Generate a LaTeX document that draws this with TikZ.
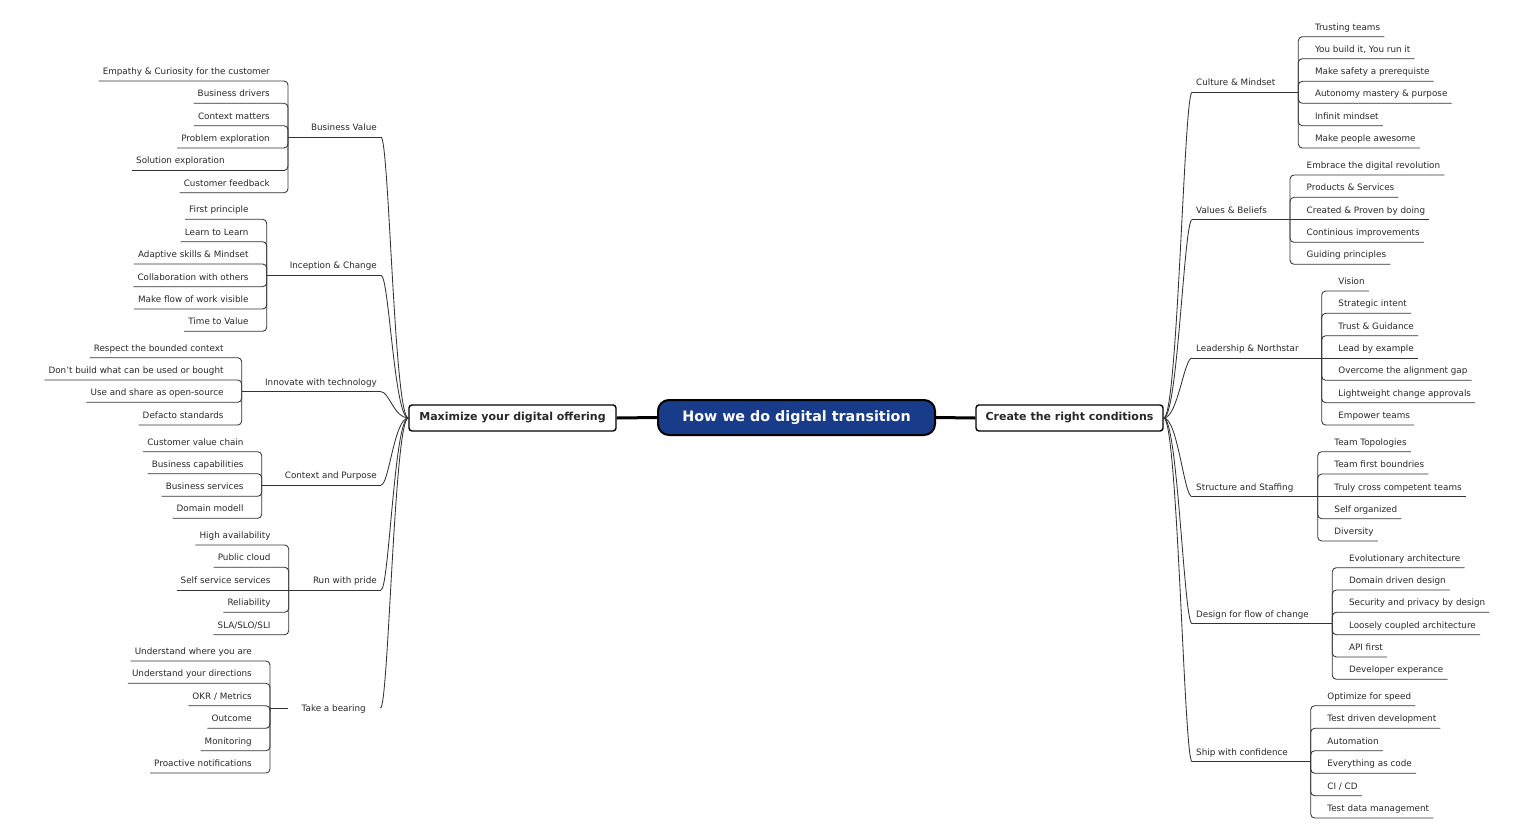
\documentclass[tikz,border=0pt]{standalone}
\usepackage{fontspec}
\setmainfont{DejaVu Sans}
\definecolor{hub}{RGB}{24,60,138}
\definecolor{ink}{RGB}{40,40,40}
\newcommand\lfL[5]{\node[leaf,anchor=south east] (#1) at (#3-14,#4) {#5};\draw[conn] (#1.south west) -| (#2);}
\newcommand\lfR[5]{\node[leaf,anchor=south west] (#1) at (#3+12.5,#4) {#5};\draw[conn] (#1.south east) -| (#2);}
\begin{document}
\begin{tikzpicture}[x=1pt,y=-1pt,
  leaf/.style={font=\fontsize{8.8}{10}\selectfont, text=ink, inner xsep=4pt, inner ysep=4pt, text depth=2.5pt, text height=6.5pt},
  conn/.style={draw=black!80, line width=0.85pt, rounded corners=4pt},
  link/.style={draw=black!80, line width=0.85pt},
  mainbox/.style={draw=black, line width=1.4pt, rounded corners=3pt, fill=white, text=ink, font=\bfseries\fontsize{11}{13}\selectfont, minimum height=26pt, inner sep=0pt},
  hubbox/.style={draw=black, line width=2pt, rounded corners=11pt, fill=hub, text=white, font=\bfseries\fontsize{14.3}{16}\selectfont, minimum width=277pt, minimum height=35pt, inner sep=0pt},
  thick link/.style={draw=black, line width=3pt}]
\useasboundingbox (0,0) rectangle (1539,833);

% main nodes
\node[hubbox] (hub) at (796.5,417.5) {How we do digital transition};
\node[mainbox, minimum width=207pt] (mainL) at (512.5,418) {Maximize your digital offering};
\node[mainbox, minimum width=187pt] (mainR) at (1069.5,418) {Create the right conditions};
\draw[thick link] (mainL.east) -- (hub.west);
\draw[thick link] (hub.east) -- (mainR.west);

% ===== LEFT =====
% Business Value
\coordinate (bvj) at (288,137);
\lfL{bv1}{bvj}{288}{81}{Empathy \& Curiosity for the customer}
\lfL{bv2}{bvj}{288}{103.3}{Business drivers}
\lfL{bv3}{bvj}{288}{125.7}{Context matters}
\lfL{bv4}{bvj}{288}{148}{Problem exploration}
\node[leaf,anchor=south west] (bv5) at (132,170.5) {Solution exploration};
\draw[conn] (bv5.south west) -| (bvj);
\lfL{bv6}{bvj}{288}{192.7}{Customer feedback}
\node[leaf,anchor=south east] (bv) at (381,137) {Business Value};
\draw[conn] (bvj) -- (bv.south east);
\draw[link] (bv.south east) .. controls +(8,0) and +(-14,0) .. (mainL.west);

% Inception & Change
\coordinate (icj) at (266.7,275.3);
\lfL{ic1}{icj}{266.7}{219.3}{First principle}
\lfL{ic2}{icj}{266.7}{241.7}{Learn to Learn}
\lfL{ic3}{icj}{266.7}{264}{Adaptive skills \& Mindset}
\lfL{ic4}{icj}{266.7}{286.7}{Collaboration with others}
\lfL{ic5}{icj}{266.7}{309}{Make flow of work visible}
\lfL{ic6}{icj}{266.7}{331.3}{Time to Value}
\node[leaf,anchor=south east] (ic) at (381,275.3) {Inception \& Change};
\draw[conn] (icj) -- (ic.south east);
\draw[link] (ic.south east) .. controls +(8,0) and +(-14,0) .. (mainL.west);

% Innovate with technology
\coordinate (itj) at (241.7,391.7);
\lfL{it1}{itj}{241.7}{357.7}{Respect the bounded context}
\lfL{it2}{itj}{241.7}{380}{Don’t build what can be used or bought}
\lfL{it3}{itj}{241.7}{402.3}{Use and share as open-source}
\lfL{it4}{itj}{241.7}{425}{Defacto standards}
\node[leaf,anchor=south east] (it) at (381,391.7) {Innovate with technology};
\draw[conn] (itj) -- (it.south east);
\draw[link] (it.south east) .. controls +(8,0) and +(-14,0) .. (mainL.west);

% Context and Purpose
\coordinate (cpj) at (261.7,485);
\lfL{cp1}{cpj}{261.7}{451.7}{Customer value chain}
\lfL{cp2}{cpj}{261.7}{473.7}{Business capabilities}
\lfL{cp3}{cpj}{261.7}{496.3}{Business services}
\lfL{cp4}{cpj}{261.7}{518.3}{Domain modell}
\node[leaf,anchor=south east] (cp) at (381,485) {Context and Purpose};
\draw[conn] (cpj) -- (cp.south east);
\draw[link] (cp.south east) .. controls +(8,0) and +(-14,0) .. (mainL.west);

% Run with pride
\coordinate (rpj) at (288.7,590);
\lfL{rp1}{rpj}{288.7}{545}{High availability}
\lfL{rp2}{rpj}{288.7}{567.3}{Public cloud}
\node[leaf,anchor=south east] (rp3) at (288.7-14,590) {Self service services};
\draw[conn] (rp3.south west) -- (rpj);
\lfL{rp4}{rpj}{288.7}{612.3}{Reliability}
\lfL{rp5}{rpj}{288.7}{634.7}{SLA/SLO/SLI}
\node[leaf,anchor=south east] (rp) at (381,590) {Run with pride};
\draw[conn] (rpj) -- (rp.south east);
\draw[link] (rp.south east) .. controls +(8,0) and +(-14,0) .. (mainL.west);

% Take a bearing
\coordinate (tbj) at (270,708);
\lfL{tb1}{tbj}{270}{661}{Understand where you are}
\lfL{tb2}{tbj}{270}{683.3}{Understand your directions}
\lfL{tb3}{tbj}{270}{705.7}{OKR / Metrics}
\lfL{tb4}{tbj}{270}{728.3}{Outcome}
\lfL{tb5}{tbj}{270}{750.7}{Monitoring}
\lfL{tb6}{tbj}{270}{773}{Proactive notifications}
\coordinate (tbstub) at (288,708);
\draw[conn] (tbj) -- (tbstub);
\node[leaf,anchor=east,inner ysep=0pt,text depth=0pt] (tb) at (370,708) {Take a bearing};
\coordinate (tbend) at (380.5,708);
\draw[link] (tbend) .. controls +(8,0) and +(-14,0) .. (mainL.west);

% ===== RIGHT =====
% Culture & Mindset
\coordinate (cmj) at (1298.3,92.3);
\lfR{cm1}{cmj}{1298.3}{36.7}{Trusting teams}
\lfR{cm2}{cmj}{1298.3}{58.7}{You build it, You run it}
\lfR{cm3}{cmj}{1298.3}{81.3}{Make safety a prerequiste}
\lfR{cm4}{cmj}{1298.3}{103.3}{Autonomy mastery \& purpose}
\lfR{cm5}{cmj}{1298.3}{125.7}{Infinit mindset}
\lfR{cm6}{cmj}{1298.3}{148}{Make people awesome}
\node[leaf,anchor=south west] (cm) at (1192,92.3) {Culture \& Mindset};
\draw[conn] (cm.south west) -- (cmj);
\draw[link] (mainR.east) .. controls +(14,0) and +(-8,0) .. (cm.south west);

% Values & Beliefs
\coordinate (vbj) at (1290,219.7);
\lfR{vb1}{vbj}{1290}{175}{Embrace the digital revolution}
\lfR{vb2}{vbj}{1290}{197.3}{Products \& Services}
\node[leaf,anchor=south west] (vb3) at (1290+12.5,219.7) {Created \& Proven by doing};
\draw[conn] (vb3.south east) -- (vbj);
\lfR{vb4}{vbj}{1290}{242.3}{Continious improvements}
\lfR{vb5}{vbj}{1290}{264.3}{Guiding principles}
\node[leaf,anchor=south west] (vb) at (1192,219.7) {Values \& Beliefs};
\draw[conn] (vb.south west) -- (vbj);
\draw[link] (mainR.east) .. controls +(14,0) and +(-8,0) .. (vb.south west);

% Leadership & Northstar
\coordinate (lnj) at (1321.7,358);
\lfR{ln1}{lnj}{1321.7}{291}{Vision}
\lfR{ln2}{lnj}{1321.7}{313.3}{Strategic intent}
\lfR{ln3}{lnj}{1321.7}{335.7}{Trust \& Guidance}
\node[leaf,anchor=south west] (ln4) at (1321.7+12.5,358) {Lead by example};
\draw[conn] (ln4.south east) -- (lnj);
\lfR{ln5}{lnj}{1321.7}{380.3}{Overcome the alignment gap}
\lfR{ln6}{lnj}{1321.7}{402.7}{Lightweight change approvals}
\lfR{ln7}{lnj}{1321.7}{425}{Empower teams}
\node[leaf,anchor=south west] (ln) at (1192,358) {Leadership \& Northstar};
\draw[conn] (ln.south west) -- (lnj);
\draw[link] (mainR.east) .. controls +(14,0) and +(-8,0) .. (ln.south west);

% Structure and Staffing
\coordinate (ssj) at (1317.7,496.7);
\lfR{ss1}{ssj}{1317.7}{451.7}{Team Topologies}
\lfR{ss2}{ssj}{1317.7}{474}{Team first boundries}
\node[leaf,anchor=south west] (ss3) at (1317.7+12.5,496.7) {Truly cross competent teams};
\draw[conn] (ss3.south east) -- (ssj);
\lfR{ss4}{ssj}{1317.7}{518.7}{Self organized}
\lfR{ss5}{ssj}{1317.7}{541}{Diversity}
\node[leaf,anchor=south west] (ss) at (1192,496.7) {Structure and Staffing};
\draw[conn] (ss.south west) -- (ssj);
\draw[link] (mainR.east) .. controls +(14,0) and +(-8,0) .. (ss.south west);

% Design for flow of change
\coordinate (dfj) at (1332.3,623.7);
\lfR{df1}{dfj}{1332.3}{567.7}{Evolutionary architecture}
\lfR{df2}{dfj}{1332.3}{590}{Domain driven design}
\lfR{df3}{dfj}{1332.3}{612.3}{Security and privacy by design}
\lfR{df4}{dfj}{1332.3}{634.7}{Loosely coupled architecture}
\lfR{df5}{dfj}{1332.3}{657}{API first}
\lfR{df6}{dfj}{1332.3}{679.3}{Developer experance}
\node[leaf,anchor=south west] (df) at (1192,623.7) {Design for flow of change};
\draw[conn] (df.south west) -- (dfj);
\draw[link] (mainR.east) .. controls +(14,0) and +(-8,0) .. (df.south west);

% Ship with confidence
\coordinate (scj) at (1310.7,761.7);
\lfR{sc1}{scj}{1310.7}{705.7}{Optimize for speed}
\lfR{sc2}{scj}{1310.7}{728.3}{Test driven development}
\lfR{sc3}{scj}{1310.7}{750.7}{Automation}
\lfR{sc4}{scj}{1310.7}{773.3}{Everything as code}
\lfR{sc5}{scj}{1310.7}{795.7}{CI / CD}
\lfR{sc6}{scj}{1310.7}{818}{Test data management}
\node[leaf,anchor=south west] (sc) at (1192,761.7) {Ship with confidence};
\draw[conn] (sc.south west) -- (scj);
\draw[link] (mainR.east) .. controls +(14,0) and +(-8,0) .. (sc.south west);
\end{tikzpicture}
\end{document}
